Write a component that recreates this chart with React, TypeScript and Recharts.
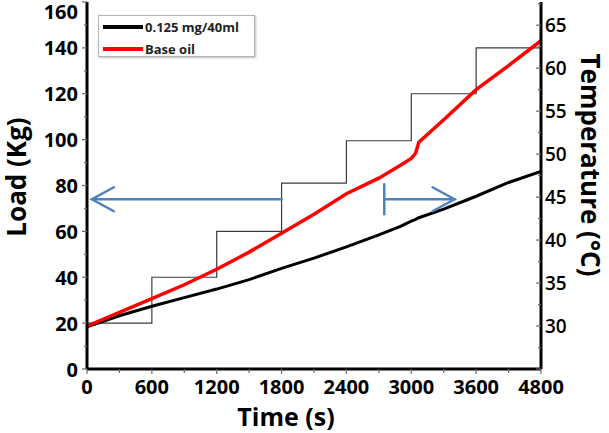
import React from 'react';
import {
  LineChart, Line, XAxis, YAxis, Legend, ReferenceLine, Label,
} from 'recharts';

// ---- data ----
const timeTickValues = [0, 600, 1200, 1800, 2400, 3000, 3600, 4200];
const timeTickLabels = ['0', '600', '1200', '1800', '2400', '3000', '3600', '4800'];
const timeAllTicks = [0, 300, 600, 900, 1200, 1500, 1800, 2100, 2400, 2700, 3000, 3300, 3600, 3900, 4200];

const loadTickLabels = [0, 20, 40, 60, 80, 100, 120, 140, 160];
const loadAllTicks = [0, 10, 20, 30, 40, 50, 60, 70, 80, 90, 100, 110, 120, 130, 140, 150, 160];

const tempTickLabels = [30, 35, 40, 45, 50, 55, 60, 65];
const tempAllTicks = [25, 27.5, 30, 32.5, 35, 37.5, 40, 42.5, 45, 47.5, 50, 52.5, 55, 57.5, 60, 62.5, 65, 67.5];

const loadTime = [0, 600, 1200, 1800, 2400, 3000, 3600, 4200];
const loadKg = [20, 40, 60, 81, 99.5, 120, 140, 140];

const tempTime = [0, 300, 600, 900, 1200, 1500, 1800, 2100, 2400, 2700, 2900, 3000, 3040, 3070, 3300, 3600, 3900, 4200];
const baseOilTemp = [30.0, 31.6, 33.2, 34.8, 36.6, 38.6, 40.8, 43.0, 45.4, 47.2, 48.7, 49.5, 50.1, 51.4, 54.0, 57.5, 60.3, 63.2];
const nanoTemp = [29.9, 31.2, 32.3, 33.3, 34.3, 35.4, 36.7, 37.9, 39.2, 40.6, 41.6, 42.2, 42.4, 42.6, 43.6, 45.1, 46.7, 48.0];

// arrows: from time, to time, load level, bar at start
const arrowFrom = [1800, 2750];
const arrowTo = [45, 3400];
const arrowLoad = [74, 74];
const arrowBar = [false, true];

const loadData = loadTime.map((t, i) => ({ t, load: loadKg[i] }));
const tempData = tempTime.map((t, i) => ({ t, base: baseOilTemp[i], nano: nanoTemp[i] }));

const FONT = '"Open Sans", "DejaVu Sans", sans-serif';
const TICK_COLOR = '#6a6a6a';
const ARROW_COLOR = '#4f81bd';

const LeftTick = (props: any) => {
  const { x, y, payload } = props;
  const v = payload.value;
  const major = loadTickLabels.includes(v);
  const ty = Math.max(y, 11);
  return (
    <g>
      <line x1={x - (major ? 5 : 3)} y1={y} x2={x} y2={y} stroke={TICK_COLOR} strokeWidth={1.2} />
      {major && (
        <text x={x - 9} y={ty} textAnchor="end" dominantBaseline="central"
          fontFamily={FONT} fontWeight={700} fontSize={20} fill="#000">{v}</text>
      )}
    </g>
  );
};

const RightTick = (props: any) => {
  const { x, y, payload } = props;
  const v = payload.value;
  const major = tempTickLabels.includes(v) || v === 25;
  return (
    <g>
      <line x1={x - (major ? 5 : 3)} y1={y} x2={x} y2={y} stroke={TICK_COLOR} strokeWidth={1.2} />
      {tempTickLabels.includes(v) && (
        <text x={x + 4} y={y} textAnchor="start" dominantBaseline="central"
          fontFamily={FONT} fontWeight={600} fontSize={19} fill="#000">{v}</text>
      )}
    </g>
  );
};

const BottomTick = (props: any) => {
  const { x, y, payload } = props;
  const v = payload.value;
  const idx = timeTickValues.indexOf(v);
  const major = idx >= 0;
  return (
    <g>
      <line x1={x} y1={y} x2={x} y2={y + (major ? 5 : 4)} stroke={TICK_COLOR} strokeWidth={1.2} />
      {major && (
        <text x={x} y={y + 17} textAnchor="middle" dominantBaseline="central"
          fontFamily={FONT} fontWeight={700} fontSize={20} fill="#000">{timeTickLabels[idx]}</text>
      )}
    </g>
  );
};

const makeArrow = (bar: boolean) => (p: any) => {
  const { x1, y1, x2, y2 } = p;
  const dir = x2 > x1 ? 1 : -1;
  return (
    <g stroke={ARROW_COLOR} strokeWidth={2.5} fill="none" strokeLinecap="round">
      <line x1={x1} y1={y1} x2={x2} y2={y2} />
      <polyline points={`${x2 - dir * 22},${y2 - 12} ${x2},${y2} ${x2 - dir * 22},${y2 + 12}`} />
      {bar && <line x1={x1} y1={y1 - 15} x2={x1} y2={y1 + 15} />}
    </g>
  );
};

const LegendBox = (props: any) => {
  const items = (props.payload || []).filter((e: any) => e.type !== 'none');
  return (
    <div style={{
      border: '1px solid #b5b5b5', width: 155, height: 40, boxSizing: 'content-box',
      background: '#fff', boxShadow: '1px 1px 2px rgba(0,0,0,0.25)',
    }}>
      {items.map((e: any) => (
        <div key={e.value} style={{ display: 'flex', alignItems: 'center', height: 22, paddingLeft: 4 }}>
          <span style={{ display: 'inline-block', width: 40, height: 4, background: e.color, marginRight: 2 }} />
          <span style={{ fontFamily: FONT, fontWeight: 700, fontSize: 13, color: '#222', lineHeight: '22px' }}>{e.value}</span>
        </div>
      ))}
    </div>
  );
};

const TimeTitle = (p: any) => {
  const vb = p.viewBox;
  return (
    <text x={vb.x + vb.width / 2 - 28} y={vb.y + 57} textAnchor="middle"
      fontFamily={FONT} fontWeight={700} fontSize={25} fill="#000">Time (s)</text>
  );
};

const LoadTitle = () => {
  const cx = 16, cy = 177;
  return (
    <text x={cx} y={cy} textAnchor="middle" dominantBaseline="central" transform={`rotate(-90 ${cx} ${cy})`}
      fontFamily={FONT} fontWeight={700} fontSize={26} fill="#000">Load (Kg)</text>
  );
};

const TempTitle = () => {
  const cx = 591, cy = 165;
  return (
    <text x={cx} y={cy} textAnchor="middle" dominantBaseline="central" transform={`rotate(90 ${cx} ${cy})`}
      fontFamily={FONT} fontWeight={700} fontSize={26} fill="#000">Temperature (°C)</text>
  );
};

export default function App() {
  return (
    <div style={{ position: 'absolute', left: 0, top: 0, width: 609, height: 433, background: '#fff' }}>
      <LineChart width={609} height={433} margin={{ top: 2, right: 0, bottom: 0, left: 0 }}>
        <XAxis xAxisId="x" dataKey="t" type="number" domain={[0, 4200]} ticks={timeAllTicks} interval={0}
          allowDataOverflow height={64} tickSize={0} tickMargin={0} tickLine={false}
          axisLine={{ stroke: '#000', strokeWidth: 3 }} tick={<BottomTick />}>
          <Label content={<TimeTitle />} />
        </XAxis>
        <XAxis xAxisId="top" orientation="top" dataKey="t" type="number" domain={[0, 4200]} height={0}
          tick={false} tickLine={false} axisLine={{ stroke: '#000', strokeWidth: 3 }} />
        <YAxis yAxisId="load" orientation="left" domain={[0, 160]} ticks={loadAllTicks} interval={0}
          allowDataOverflow width={87} tickSize={0} tickMargin={0} tickLine={false}
          axisLine={{ stroke: '#000', strokeWidth: 3 }} tick={<LeftTick />}>
          <Label content={<LoadTitle />} />
        </YAxis>
        <YAxis yAxisId="temp" orientation="right" domain={[25, 67.7]} ticks={tempAllTicks} interval={0}
          allowDataOverflow width={68} tickSize={0} tickMargin={0} tickLine={false}
          axisLine={{ stroke: '#000', strokeWidth: 3 }} tick={<RightTick />}>
          <Label content={<TempTitle />} />
        </YAxis>

        <Line xAxisId="x" yAxisId="load" data={loadData} dataKey="load" type="stepAfter"
          stroke="#3c3c3c" strokeWidth={1.2} dot={false} legendType="none" isAnimationActive={false} />
        <Line xAxisId="x" yAxisId="temp" data={tempData} dataKey="nano" name="0.125 mg/40ml" type="linear"
          stroke="#000000" strokeWidth={3} dot={false} isAnimationActive={false} />
        <Line xAxisId="x" yAxisId="temp" data={tempData} dataKey="base" name="Base oil" type="linear"
          stroke="#ff0000" strokeWidth={3.5} dot={false} isAnimationActive={false} />

        {arrowFrom.map((f, i) => (
          <ReferenceLine key={i} xAxisId="x" yAxisId="load"
            segment={[{ x: f, y: arrowLoad[i] }, { x: arrowTo[i], y: arrowLoad[i] }]}
            shape={makeArrow(arrowBar[i])} />
        ))}

        <Legend layout="vertical" align="center" verticalAlign="middle" content={<LegendBox />}
          wrapperStyle={{ left: 98, top: 15, width: 157, height: 42 }} />
      </LineChart>
    </div>
  );
}
